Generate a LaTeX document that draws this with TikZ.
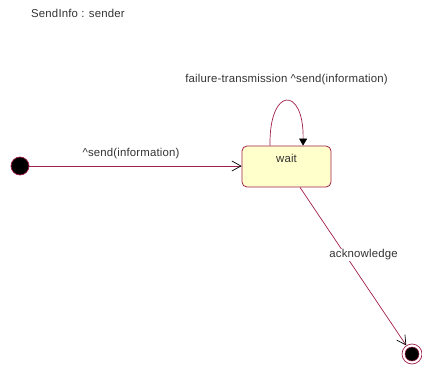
\documentclass[tikz,border=0pt]{standalone}
\usepackage{fontspec}
\setmainfont{Liberation Sans}[LetterSpace=1.5]
\usetikzlibrary{arrows.meta}
\definecolor{umlline}{HTML}{A0204A}
\definecolor{umlfill}{HTML}{FFFFCC}
\definecolor{umltext}{HTML}{333333}
\tikzset{
  lbl/.style={font=\fontsize{11.4}{13}\selectfont, text=umltext, inner sep=1pt},
  statebox/.style={draw=umlline, fill=umlfill, rounded corners=5pt, line width=0.8pt, minimum width=89pt, minimum height=41pt},
  trans/.style={draw=umlline, line width=0.7pt},
  openarrow/.style={-{Straight Barb[length=9pt,width=10pt,color=black,line width=0.7pt]}},
  fillarrow/.style={-{Triangle[length=7pt,width=8pt,color=black]}}
}
\begin{document}
\begin{tikzpicture}[x=1pt,y=-1pt]
\useasboundingbox (0,0) rectangle (422,366);
\node[lbl, anchor=west] (title) at (30,13) {SendInfo : sender};
\node[statebox] (wait) at (286.5,166.5) {};
\node[lbl] (waitlbl) at (286.5,158) {wait};
\node[circle, draw=umlline, fill=black, line width=0.7pt, minimum size=18pt, inner sep=0pt] (init) at (20,166) {};
\node[circle, draw=umlline, fill=white, line width=0.7pt, minimum size=20pt, inner sep=0pt] (final) at (412,354) {};
\node[circle, draw=umlline, fill=black, line width=0.5pt, minimum size=14pt, inner sep=0pt] (finalin) at (412,354) {};
\coordinate (loopA) at ([xshift=-16.5pt]wait.north);
\coordinate (loopB) at ([xshift=16.5pt]wait.north);
\coordinate (ackA) at ([xshift=13.5pt]wait.south);
\draw[trans, openarrow] (init) -- (init -| wait.west);
\draw[trans, fillarrow] (loopA) .. controls (269,86) and (304,86) .. (loopB);
\draw[trans, openarrow] (ackA) -- (final);
\node[lbl] (l1) at (131,154) {\textasciicircum send(information)};
\node[lbl] (l2) at (286.5,80) {failure-transmission \textasciicircum send(information)};
\node[lbl, fill=white] (l3) at (363.5,255) {acknowledge};
\end{tikzpicture}
\end{document}
